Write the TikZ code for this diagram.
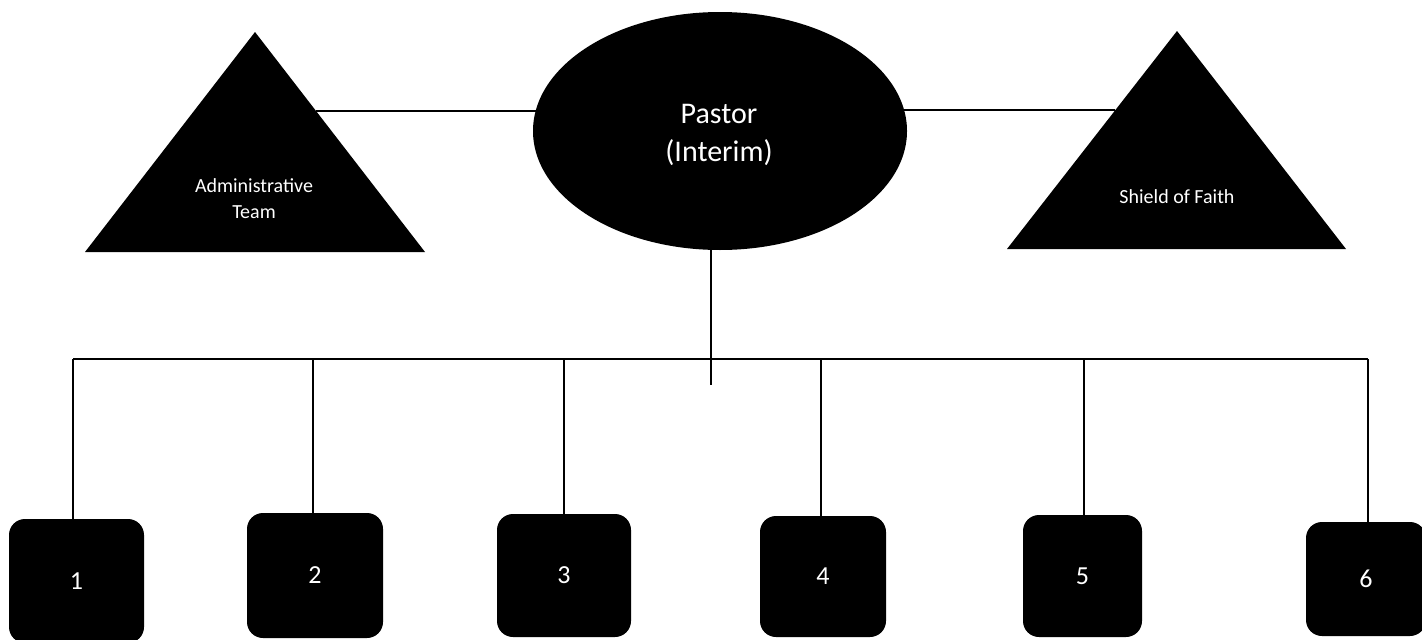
\documentclass[tikz,border=0pt]{standalone}
\usepackage{fontspec}
\setmainfont{Carlito}
\usetikzlibrary{shapes.geometric,backgrounds}
\begin{document}
\begin{tikzpicture}[x=1pt,y=-1pt,
  link/.style={draw=black,line width=1.3pt},
  tri/.style={fill=black},
  tritext/.style={text=white,align=center,font=\fontsize{20}{26}\selectfont,inner sep=0pt},
  boss/.style={ellipse,fill=black,inner sep=0pt,
    minimum width=374pt,minimum height=238pt},
  bosstext/.style={text=white,align=center,inner sep=0pt,font=\fontsize{30}{38}\selectfont},
  unit/.style={fill=black,rounded corners=16pt,text=white,inner sep=0pt,
    font=\fontsize{26}{30}\selectfont}]
\useasboundingbox (0,0) rectangle (1422,640);

% central ellipse
\node[boss] (pastor) at (720,131) {};
\node[bosstext] (pastortext) at (719,135) {Pastor\\(Interim)};

% triangles
\fill[tri] (255,32) -- (425,252) -- (85,252) -- cycle;
\node[tritext] (admin) at (254,199) {Administrative\\Team};
\coordinate (adminR) at (316,111);

\fill[tri] (1177,31) -- (1346,249) -- (1007,249) -- cycle;
\node[tritext] (shield) at (1177,197) {Shield of Faith};
\coordinate (shieldL) at (1115,110);

% boxes
\node[unit,minimum width=135pt,minimum height=124pt] (b1) at (76.5,581) {1};
\node[unit,minimum width=136pt,minimum height=125pt] (b2) at (315,575.5) {2};
\node[unit,minimum width=134pt,minimum height=123pt] (b3) at (564,575.5) {3};
\node[unit,minimum width=126pt,minimum height=121pt] (b4) at (823,576.5) {4};
\node[unit,minimum width=119pt,minimum height=122pt] (b5) at (1082.5,576) {5};
\node[unit,minimum width=120pt,minimum height=114pt] (b6) at (1366,579) {6};

\coordinate (bus) at (0,359);
\coordinate (stem) at (711,385);

\begin{scope}[on background layer]
  \draw[link] (adminR) -- (adminR -| pastor.center);
  \draw[link] (shieldL) -- (shieldL -| pastor.center);
  \draw[link] (stem |- pastor.center) -- (stem);
  \draw[link] (73,0 |- bus) coordinate (busL) -- (1368,0 |- bus) coordinate (busR);
  \draw[link] (busL) -- (busL |- b1.north);
  \draw[link] (313,0 |- bus) -- (313,0 |- b2.north);
  \draw[link] (b3.north |- bus) -- (b3.north);
  \draw[link] (821,0 |- bus) -- (821,0 |- b4.north);
  \draw[link] (1084,0 |- bus) -- (1084,0 |- b5.north);
  \draw[link] (busR) -- (busR |- b6.north);
\end{scope}
\end{tikzpicture}
\end{document}
